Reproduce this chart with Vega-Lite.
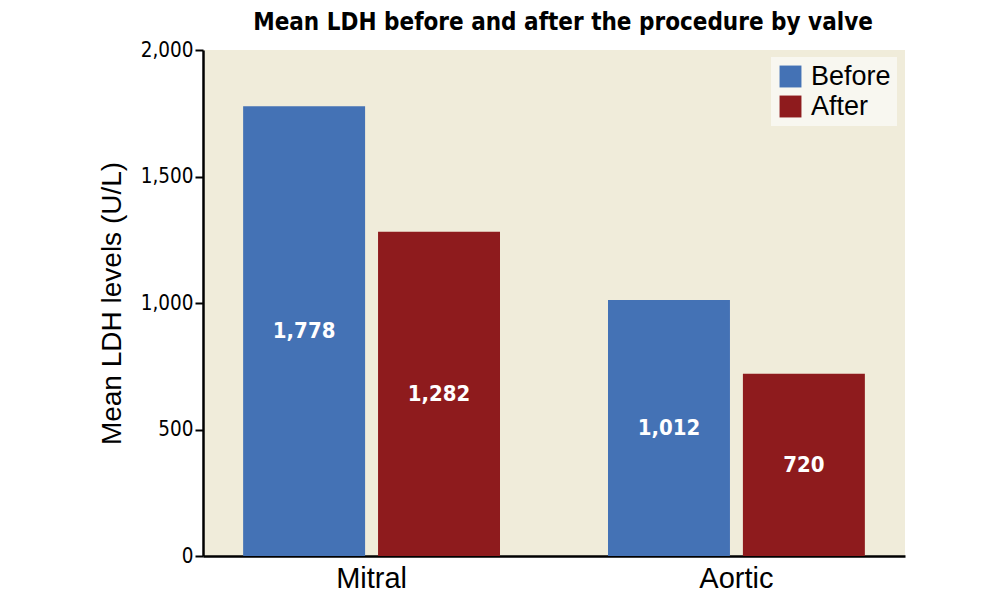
{
  "$schema": "https://vega.github.io/schema/vega-lite/v6.json",
  "width": 702,
  "height": 506,
  "autosize": {"type": "none"},
  "padding": {"left": 203, "top": 50, "right": 99, "bottom": 46},
  "background": "white",
  "title": {
    "text": "Mean LDH before and after the procedure by valve",
    "font": "DejaVu Sans Condensed, Liberation Sans Narrow, sans-serif",
    "fontWeight": "bold",
    "fontSize": 24,
    "color": "black",
    "anchor": "middle",
    "dx": 9,
    "offset": 5
  },
  "config": {
    "view": {"fill": "#f0ecda", "stroke": null},
    "axis": {"domainColor": "black", "domainWidth": 2.5, "tickColor": "black", "tickWidth": 2, "grid": false}
  },
  "data": {
    "values": [
      {"valve": "Mitral", "time": "Before", "ldh": 1778},
      {"valve": "Mitral", "time": "After", "ldh": 1282},
      {"valve": "Aortic", "time": "Before", "ldh": 1012},
      {"valve": "Aortic", "time": "After", "ldh": 720}
    ]
  },
  "encoding": {
    "x": {
      "field": "valve",
      "type": "nominal",
      "sort": ["Mitral", "Aortic"],
      "scale": {"paddingInner": 0.296, "paddingOuter": 0.11},
      "axis": {
        "title": null,
        "labelAngle": 0,
        "ticks": false,
        "labelFont": "Liberation Sans",
        "labelFontSize": 29,
        "labelColor": "black",
        "labelPadding": 8
      }
    },
    "xOffset": {
      "field": "time",
      "type": "nominal",
      "sort": ["Before", "After"],
      "scale": {"paddingInner": 0.096, "paddingOuter": 0}
    }
  },
  "layer": [
    {
      "mark": {"type": "bar"},
      "encoding": {
        "y": {
          "field": "ldh",
          "type": "quantitative",
          "scale": {"domain": [0, 2000]},
          "axis": {
            "title": "Mean LDH levels (U/L)",
            "titleFont": "Liberation Sans",
            "titleFontSize": 28,
            "titleFontWeight": "normal",
            "titleColor": "black",
            "titlePadding": 14,
            "values": [0, 500, 1000, 1500, 2000],
            "format": ",d",
            "tickSize": 8,
            "labelFont": "DejaVu Sans Condensed, Liberation Sans Narrow, sans-serif",
            "labelFontSize": 20.5,
            "labelColor": "black",
            "labelPadding": 2
          }
        },
        "color": {
          "field": "time",
          "type": "nominal",
          "sort": ["Before", "After"],
          "scale": {"domain": ["Before", "After"], "range": ["#4472b5", "#8e1b1d"]},
          "legend": {
            "title": null,
            "orient": "none",
            "legendX": 568,
            "legendY": 7,
            "symbolType": "square",
            "symbolSize": 480,
            "symbolStrokeWidth": 0,
            "symbolOpacity": 1,
            "labelFont": "Liberation Sans",
            "labelFontSize": 27,
            "labelColor": "black",
            "labelOffset": 7,
            "rowPadding": 2,
            "fillColor": "#f8f7f0",
            "padding": 6
          }
        }
      }
    },
    {
      "mark": {
        "type": "text",
        "color": "white",
        "font": "DejaVu Sans Condensed, Liberation Sans Narrow, sans-serif",
        "fontWeight": "bold",
        "fontSize": 22,
        "baseline": "middle"
      },
      "encoding": {
        "y": {
          "field": "ldh",
          "type": "quantitative",
          "scale": {"domain": [0, 4000]},
          "axis": null
        },
        "text": {"field": "ldh", "type": "quantitative", "format": ",d"}
      }
    }
  ],
  "resolve": {"scale": {"y": "independent"}}
}
